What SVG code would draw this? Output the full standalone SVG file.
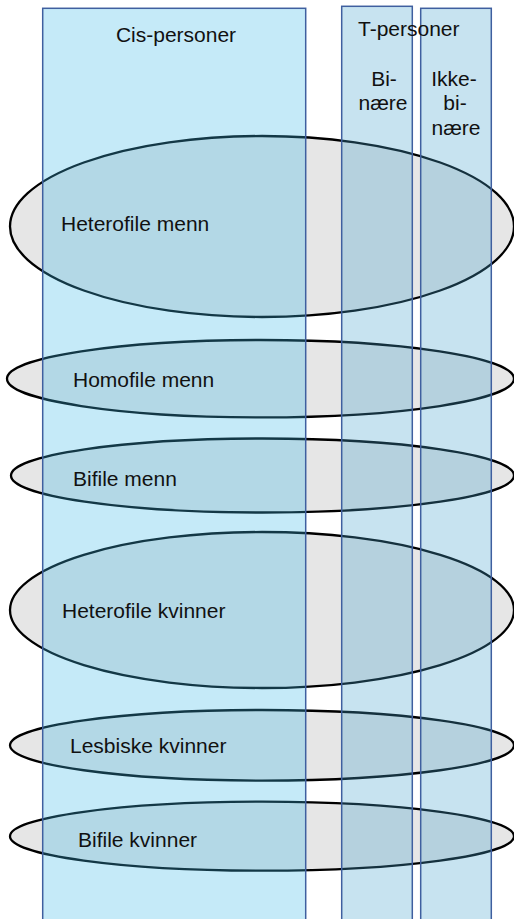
<svg xmlns="http://www.w3.org/2000/svg" width="514" height="919" viewBox="0 0 514 919">
  <style>
    .ell { fill: #e6e6e6; stroke: #000000; stroke-width: 2.3; }
    .cis { fill: #3eb9e8; fill-opacity: 0.3; stroke: #3f5f9f; stroke-width: 1.5; }
    .trans { fill: #45a2cd; fill-opacity: 0.3; stroke: #3f5f9f; stroke-width: 1.5; }
    .lbl { font-family: "Liberation Sans", Arial, sans-serif; font-size: 21px; fill: #111111; }
    .mid { text-anchor: middle; }
  </style>
  <rect width="514" height="919" fill="#ffffff"/>
  <g id="ellipses">
    <g id="heterofile-menn">
      <ellipse class="ell" cx="262" cy="226.5" rx="252" ry="90.5"/>
    </g>
    <g id="homofile-menn">
      <ellipse class="ell" cx="260.5" cy="378.7" rx="253.5" ry="38.7"/>
    </g>
    <g id="bifile-menn">
      <ellipse class="ell" cx="262.5" cy="475.5" rx="251.5" ry="37"/>
    </g>
    <g id="heterofile-kvinner">
      <ellipse class="ell" cx="262" cy="610" rx="252" ry="78"/>
    </g>
    <g id="lesbiske-kvinner">
      <ellipse class="ell" cx="262" cy="745.3" rx="252" ry="35.3"/>
    </g>
    <g id="bifile-kvinner">
      <ellipse class="ell" cx="262" cy="836.2" rx="252" ry="34.5"/>
    </g>
  </g>
  <g id="columns">
    <g id="cis-personer">
      <rect class="cis" x="42.7" y="8.3" width="263" height="920"/>
      <text class="lbl mid" x="176" y="42">Cis-personer</text>
    </g>
    <g id="binaere">
      <rect class="trans" x="341.7" y="6.3" width="70.6" height="920"/>
      <text class="lbl mid" x="384" y="86">Bi-</text>
      <text class="lbl mid" x="383" y="110">nære</text>
    </g>
    <g id="ikke-binaere">
      <rect class="trans" x="420.7" y="8.3" width="70.6" height="920"/>
      <text class="lbl mid" x="454" y="86">Ikke-</text>
      <text class="lbl mid" x="455" y="110">bi-</text>
      <text class="lbl mid" x="456" y="135">nære</text>
    </g>
    <g id="t-personer">
      <text class="lbl" x="358" y="36">T-personer</text>
    </g>
  </g>
  <g id="ellipse-labels">
    <text class="lbl" x="61" y="231">Heterofile menn</text>
    <text class="lbl" x="73" y="387">Homofile menn</text>
    <text class="lbl" x="73" y="486">Bifile menn</text>
    <text class="lbl" x="62" y="618">Heterofile kvinner</text>
    <text class="lbl" x="70" y="753">Lesbiske kvinner</text>
    <text class="lbl" x="78" y="847">Bifile kvinner</text>
  </g>
  <g id="connectors"/>
</svg>
